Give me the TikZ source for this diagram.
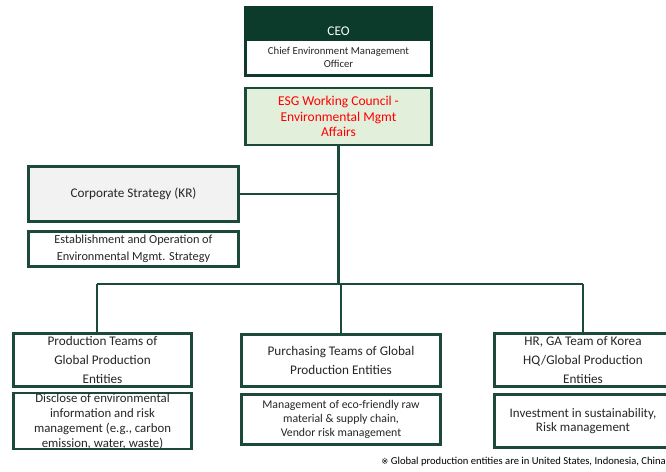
\documentclass[tikz,border=0pt]{standalone}
\usepackage{fontspec}
\setmainfont{Carlito}
\newfontfamily\symfont{DejaVu Sans}
\definecolor{esgdark}{HTML}{0C3B2B}
\definecolor{esgline}{HTML}{1C4A38}
\definecolor{esglight}{HTML}{E2EFDA}
\definecolor{esgred}{HTML}{FF0000}
\definecolor{esggray}{HTML}{F2F2F2}
\tikzset{
  orgbox/.style={draw=esgline, line width=2.6pt, fill=white, align=center,
    inner sep=1pt, text=black!85},
  bigtxt/.style={font=\fontsize{13.2}{19}\selectfont},
  smalltxt/.style={font=\fontsize{12.8}{15}\selectfont},
  tree/.style={draw=esgline, line width=2.6pt}
}
\begin{document}
\begin{tikzpicture}[x=1pt,y=-1pt]
    \useasboundingbox (0,0) rectangle (666,471);
    \clip (0,0) rectangle (666,471);
    % top: ceo and council
    \node[orgbox, draw=esgdark, fill=esgdark, minimum width=186pt, minimum height=68pt] (ceo) at (338.5,41.5) {};
    \node[text=white, font=\fontsize{13.3}{14}\selectfont] (ceotitle) at (338.5,31) {CEO};
    \node[orgbox, draw=none, minimum width=183pt, minimum height=33pt, font=\fontsize{10.7}{13}\selectfont] (cemo) at (338.5,57.5) {Chief Environment Management\\Officer};
    \node[orgbox, fill=esglight, minimum width=186pt, minimum height=57pt, text=esgred, font=\fontsize{13.5}{15.5}\selectfont] (council) at (338.5,116.5) {ESG Working Council -\\Environmental Mgmt\\Affairs};
    % strategy
    \node[orgbox, bigtxt, fill=esggray, minimum width=210pt, minimum height=55pt] (corp) at (133.5,194) {Corporate Strategy (KR)};
    \node[orgbox, font=\fontsize{12.3}{17}\selectfont, minimum width=210pt, minimum height=35pt] (corpjob) at (133.5,249) {Establishment and Operation of\\Environmental Mgmt. Strategy};
    % teams
    \node[orgbox, bigtxt, minimum width=178pt, minimum height=53pt] (prod) at (102.5,360) {Production Teams of\\Global Production\\Entities};
    \node[orgbox, smalltxt, minimum width=178pt, minimum height=53pt, inner sep=0pt] (prodjob) at (102.5,421) {Disclose of environmental\\information and risk\\management (e.g., carbon\\emission, water, waste)};
    \node[orgbox, bigtxt, minimum width=199pt, minimum height=52pt] (purch) at (341,360.5) {Purchasing Teams of Global\\Production Entities};
    \node[orgbox, font=\fontsize{11.8}{14}\selectfont, minimum width=199pt, minimum height=50pt] (purchjob) at (341,419.5) {Management of eco-friendly raw\\material \& supply chain,\\Vendor risk management};
    \node[orgbox, bigtxt, minimum width=177pt, minimum height=53pt] (hr) at (583,360) {HR, GA Team of Korea\\HQ/Global Production\\Entities};
    \node[orgbox, font=\fontsize{13}{14.5}\selectfont, minimum width=177pt, minimum height=53pt] (hrjob) at (583,421) {Investment in sustainability,\\Risk management};
    % connectors
    \coordinate (bus) at (342,284);
    \coordinate (busL) at (97,284);
    \coordinate (busR) at (583,284);
    \draw[tree] (council.south) -- (council.south |- bus);
    \draw[tree] (corp.east) -- (corp.east -| council.south);
    \draw[tree] (busL) -- (busR);
    \draw[tree] (busL) -- (busL |- prod.north);
    \draw[tree] (bus -| purch.north) -- (purch.north);
    \draw[tree] (busR) -- (hr.north);
    \node[anchor=east, inner sep=0pt, font=\fontsize{10.6}{12}\selectfont] (note) at (666,462) {{\symfont\fontsize{8.5}{12}\selectfont ※} Global production entities are in United States, Indonesia, China};
\end{tikzpicture}
\end{document}
